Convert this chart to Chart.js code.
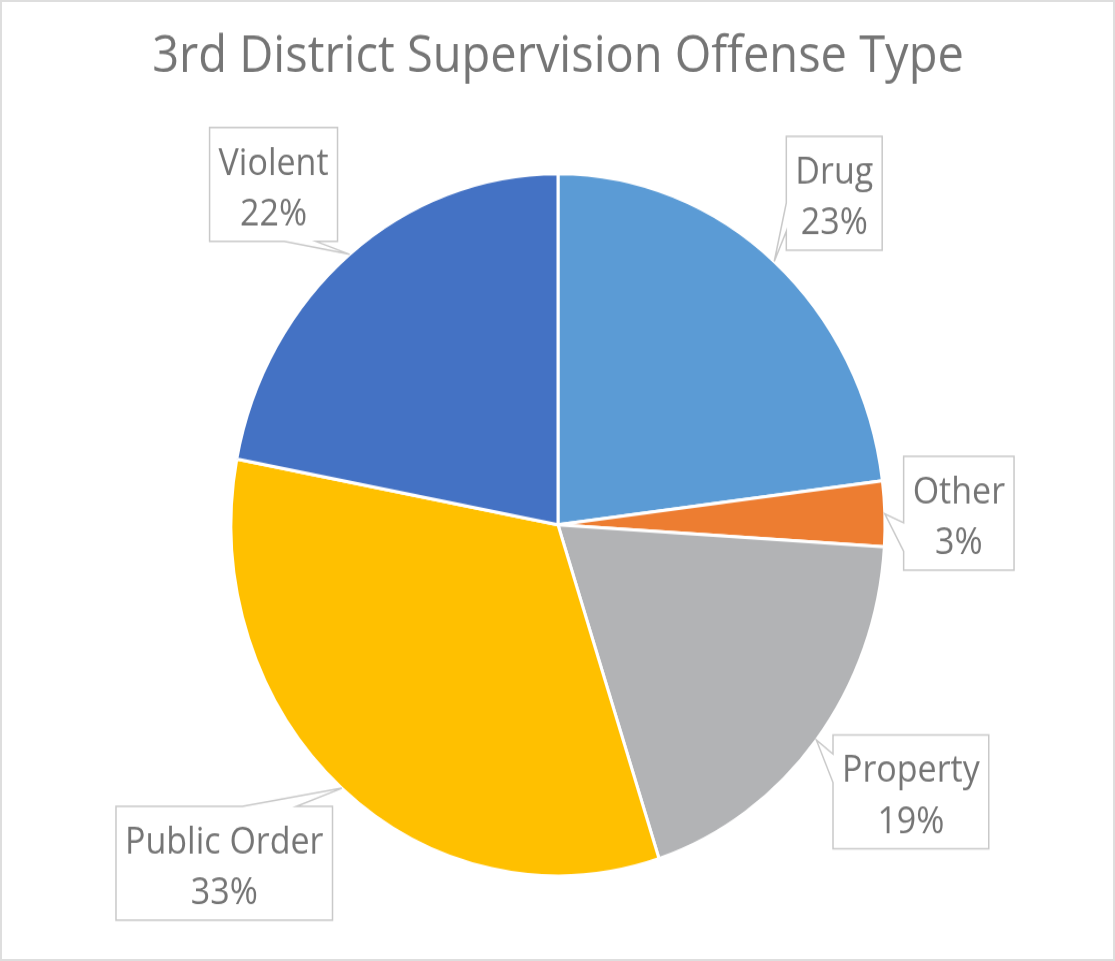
<!DOCTYPE html>
<html>
<head>
<meta charset="utf-8">
<title>3rd District Supervision Offense Type</title>
<script src="https://cdn.jsdelivr.net/npm/chart.js@4.4.1/dist/chart.umd.min.js"></script>
<style>
  html, body { margin: 0; padding: 0; background: #fff; }
  #frame { position: relative; width: 1115px; height: 961px; overflow: hidden; background: #fff; }
  #stage { position: absolute; left: 0; top: 0; width: 1115px; height: 895px;
           transform-origin: 0 0; transform: scale(1, 1.0737); }
  #edge { position: absolute; left: 0; top: 0; width: 1115px; height: 961px;
          box-sizing: border-box; border: 2px solid #dedede; pointer-events: none; }
</style>
</head>
<body>
<div id="frame">
  <div id="stage"><canvas id="chart" width="1115" height="895"></canvas></div>
  <div id="edge"></div>
</div>
<script>
const categories = ['Drug', 'Other', 'Property', 'Public Order', 'Violent'];
const shares = [23, 3, 19, 33, 22];
const sliceColors = ['#5B9BD5', '#ED7D31', '#B2B3B5', '#FFC000', '#4472C4'];
// callout box centres, offset from the point where each leader meets its slice
const calloutOffsets = [[60, -63.5], [74, -0.5], [94.5, 48.4], [-117.5, 70], [-76, -65]];

const LABEL_FONT = '34px "Open Sans", sans-serif';
const TEXT_COLOR = '#757575';

// Rectangular callouts with a wedge pointing at each slice
const calloutPlugin = {
  id: 'callouts',
  afterDatasetsDraw(chart) {
    const ctx = chart.ctx;
    const meta = chart.getDatasetMeta(0);
    ctx.save();
    ctx.font = LABEL_FONT;
    meta.data.forEach((arc, i) => {
      const p = arc.getProps(['x', 'y', 'startAngle', 'endAngle', 'outerRadius'], true);
      const mid = (p.startAngle + p.endAngle) / 2;
      const tx = p.x + Math.cos(mid) * p.outerRadius;
      const ty = p.y + Math.sin(mid) * p.outerRadius;
      const line1 = categories[i];
      const line2 = shares[i] + '%';
      const tw = Math.max(ctx.measureText(line1).width, ctx.measureText(line2).width);
      const w = tw + 18, h = 106;
      const cx = tx + calloutOffsets[i][0], cy = ty + calloutOffsets[i][1];
      const l = cx - w / 2, t = cy - h / 2, r = l + w, b = t + h;
      const dx = tx - cx, dy = ty - cy;
      const dq = dx * h / w;

      ctx.beginPath();
      ctx.moveTo(l, t);
      if (Math.abs(dy) > Math.abs(dq)) {
        const x1 = l + w * (dx > 0 ? 7 : 2) / 12, x2 = l + w * (dx > 0 ? 10 : 5) / 12;
        if (dy < 0) {
          ctx.lineTo(x1, t); ctx.lineTo(tx, ty); ctx.lineTo(x2, t);
          ctx.lineTo(r, t); ctx.lineTo(r, b); ctx.lineTo(l, b);
        } else {
          ctx.lineTo(r, t); ctx.lineTo(r, b); ctx.lineTo(x2, b);
          ctx.lineTo(tx, ty); ctx.lineTo(x1, b); ctx.lineTo(l, b);
        }
      } else {
        const y1 = t + h * (dy > 0 ? 7 : 2) / 12, y2 = t + h * (dy > 0 ? 10 : 5) / 12;
        if (dx > 0) {
          ctx.lineTo(r, t); ctx.lineTo(r, y1); ctx.lineTo(tx, ty); ctx.lineTo(r, y2);
          ctx.lineTo(r, b); ctx.lineTo(l, b);
        } else {
          ctx.lineTo(r, t); ctx.lineTo(r, b); ctx.lineTo(l, b);
          ctx.lineTo(l, y2); ctx.lineTo(tx, ty); ctx.lineTo(l, y1);
        }
      }
      ctx.closePath();
      ctx.fillStyle = '#ffffff';
      ctx.fill();
      ctx.lineWidth = 1.5;
      ctx.strokeStyle = '#c9c9c9';
      ctx.stroke();

      ctx.fillStyle = TEXT_COLOR;
      ctx.textAlign = 'center';
      ctx.textBaseline = 'middle';
      ctx.fillText(line1, cx, cy - 19);
      ctx.fillText(line2, cx, cy + 28.4);
    });
    ctx.restore();
  }
};

new Chart(document.getElementById('chart'), {
  type: 'pie',
  data: {
    labels: categories,
    datasets: [{
      data: shares,
      backgroundColor: sliceColors,
      borderColor: '#ffffff',
      borderWidth: 3,
      hoverOffset: 0,
      radius: 327
    }]
  },
  options: {
    responsive: false,
    animation: false,
    devicePixelRatio: 1,
    layout: { padding: { left: 1, right: 0, top: 0, bottom: 80.2 } },
    plugins: {
      legend: { display: false },
      tooltip: { enabled: false },
      title: {
        display: true,
        text: '3rd District Supervision Offense Type',
        color: TEXT_COLOR,
        font: { family: '"Open Sans", sans-serif', size: 47, weight: 'normal', lineHeight: 1.2 },
        padding: { top: 25.7, bottom: 80.7 }
      }
    }
  },
  plugins: [calloutPlugin]
});
</script>
</body>
</html>
